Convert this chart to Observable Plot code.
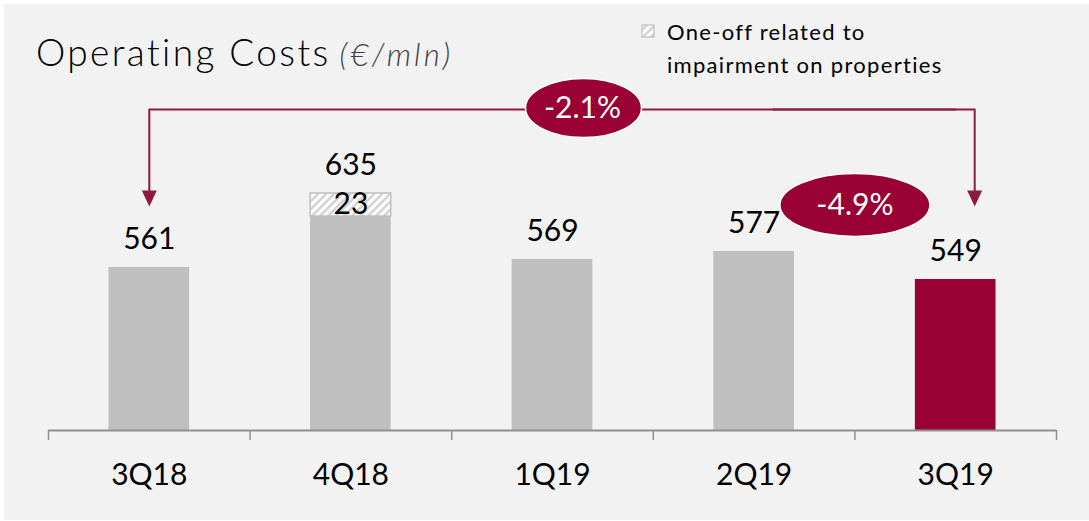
<!DOCTYPE html>
<html><head><meta charset="utf-8">
<script src="https://cdn.jsdelivr.net/npm/d3@7"></script>
<script src="https://cdn.jsdelivr.net/npm/@observablehq/plot@0.6"></script>
<style>
html,body{margin:0;padding:0;background:#fff;}
#wrap{position:relative;width:1089px;height:521px;overflow:hidden;}
#bg{position:absolute;left:4px;top:4px;right:0;bottom:1px;background:#f2f2f2;}
#chart{position:absolute;left:0;top:0;}
</style></head><body>
<div id="wrap"><div id="bg"></div><div id="chart"></div></div>
<script>
// ---- data ----
const quarters = ["3Q18", "4Q18", "1Q19", "2Q19", "3Q19"];
const baseCosts = [561, 612, 569, 577, 549];
const oneOffCosts = [0, 23, 0, 0, 0];
const changeLabels = ["-2.1%", "-4.9%"];
const titleText = "Operating Costs";
const unitText = "(€/mln)";
const legendLines = ["One-off related to", "impairment on properties"];

// ---- styles / layout ----
const GRAY = "#bfbfbf", RED = "#990033", MAROON = "#8c1a42", AXIS = "#8f8f8f";
const W = 1089, H = 521, ML = 48, MR = 33, MT = 0, MB = 91;
const step = (W - ML - MR) / quarters.length;
const yFloor = 398, yTop = yFloor + (H - MB - MT);
const rightShift = 19;

const rows = quarters.map((q, i) => ({
  q, base: baseCosts[i], oneOff: oneOffCosts[i], total: baseCosts[i] + oneOffCosts[i],
  color: i === quarters.length - 1 ? RED : GRAY
}));
const maxTotal = d3.max(rows, d => d.total);
const bracketLevel = maxTotal + 84;
const tipLevel = maxTotal - 13;

const downTri = {draw(ctx) { ctx.moveTo(-7.5, -8); ctx.lineTo(7.5, -8); ctx.lineTo(0, 8); ctx.closePath(); }};
function ellipse(rx, ry) {
  const k = 0.5522847498;
  return {draw(ctx) {
    ctx.moveTo(rx, 0);
    ctx.bezierCurveTo(rx, ry * k, rx * k, ry, 0, ry);
    ctx.bezierCurveTo(-rx * k, ry, -rx, ry * k, -rx, 0);
    ctx.bezierCurveTo(-rx, -ry * k, -rx * k, -ry, 0, -ry);
    ctx.bezierCurveTo(rx * k, -ry, rx, -ry * k, rx, 0);
    ctx.closePath();
  }};
}

const first = quarters[0], last = quarters[quarters.length - 1];
const badge1 = [{x: quarters[2], y: bracketLevel + 1.5, label: changeLabels[0]}];
const badge2 = [{x: quarters[3], y: tipLevel + 1.5, label: changeLabels[1]}];
const leftArm = [{x: first, y: tipLevel + 8}, {x: first, y: bracketLevel}, {x: last, y: bracketLevel}];
const rightArm = [{x: quarters[3], y: bracketLevel}, {x: last, y: bracketLevel}, {x: last, y: tipLevel + 8}];

const plot = Plot.plot({
  width: W, height: H,
  marginLeft: ML, marginRight: MR, marginTop: MT, marginBottom: MB,
  style: {fontFamily: "Lato, sans-serif", background: "transparent", color: "#000", overflow: "visible"},
  x: {domain: quarters, paddingInner: 0.6, paddingOuter: 0.3, round: false},
  y: {domain: [yFloor, yTop], axis: null},
  color: {type: "identity"},
  marks: [
    Plot.barY(rows, {x: "q", y1: yFloor, y2: "base", fill: "color"}),
    Plot.barY(rows.filter(d => d.oneOff > 0), {x: "q", y1: "base", y2: "total", fill: "url(#hatch)", stroke: GRAY, strokeWidth: 1.5}),
    Plot.ruleY([yFloor], {stroke: AXIS, strokeWidth: 2}),
    Plot.ruleX(quarters, {x: d => d, y1: yFloor, y2: yFloor - 10, dx: -step / 2, stroke: AXIS, strokeWidth: 1.5}),
    Plot.ruleX([last], {x: d => d, y1: yFloor, y2: yFloor - 10, dx: step / 2, stroke: AXIS, strokeWidth: 1.5}),
    Plot.axisX({tickSize: 0, tickPadding: 33, fontSize: 30, label: null}),
    Plot.text(rows, {x: "q", y: "total", text: d => String(d.total), dy: -28, fontSize: 30, fill: "#000"}),
    Plot.text(rows.filter(d => d.oneOff > 0), {x: "q", y: d => d.base + d.oneOff / 2, text: d => String(d.oneOff), dy: -1, fontSize: 30, fill: "#000"}),
    // bracket arrow
    Plot.line(leftArm, {x: "x", y: "y", stroke: MAROON, strokeWidth: 2}),
    Plot.line(rightArm, {x: "x", y: "y", dx: rightShift, stroke: MAROON, strokeWidth: 2}),
    Plot.dot([first], {x: d => d, y: tipLevel + 8, symbol: downTri, fill: MAROON, stroke: "none"}),
    Plot.dot([last], {x: d => d, y: tipLevel + 8, dx: rightShift, symbol: downTri, fill: MAROON, stroke: "none"}),
    Plot.dot(badge1, {x: "x", y: "y", dx: 31, symbol: ellipse(58, 29.5), fill: RED, stroke: "#fff", strokeWidth: 1.5}),
    Plot.text(badge1, {x: "x", y: "y", dx: 30, text: "label", fontSize: 30, fill: "#fff"}),
    Plot.dot(badge2, {x: "x", y: "y", dx: step / 2, symbol: ellipse(75, 31.5), fill: RED, stroke: "#fff", strokeWidth: 1.5}),
    Plot.text(badge2, {x: "x", y: "y", dx: step / 2, text: "label", fontSize: 30, fill: "#fff"})
  ]
});

const svg = d3.select(plot);
svg.insert("defs", ":first-child").html(
  `<pattern id="hatch" patternUnits="userSpaceOnUse" width="8" height="8">
     <rect width="8" height="8" fill="#ffffff"/>
     <path d="M-2,2 l4,-4 M0,8 l8,-8 M6,10 l4,-4" stroke="#d4d4d4" stroke-width="2.5"/>
   </pattern>`);

// title
const t = svg.append("text").attr("x", 36).attr("y", 66).attr("text-anchor", "start")
  .style("font-family", "Lato, sans-serif").style("font-size", "37px").style("font-weight", 300)
  .style("letter-spacing", "2.4px").attr("fill", "#000")
  .text(titleText);
t.append("tspan").attr("dx", 9).style("font-size", "31px").style("font-style", "italic")
  .style("letter-spacing", "3.2px").attr("fill", "#404040").text(unitText);

// legend
svg.append("rect").attr("x", 642).attr("y", 25).attr("width", 12).attr("height", 12)
  .attr("fill", "url(#hatch)").attr("stroke", GRAY).attr("stroke-width", 1.2);
legendLines.forEach((s, i) => {
  svg.append("text").attr("x", 667).attr("y", 40 + i * 33).attr("text-anchor", "start")
    .style("font-family", "Lato, sans-serif").style("font-size", "22px").style("letter-spacing", "1.3px")
    .attr("fill", "#000").text(s);
});

document.getElementById("chart").appendChild(plot);
</script>
</body></html>
